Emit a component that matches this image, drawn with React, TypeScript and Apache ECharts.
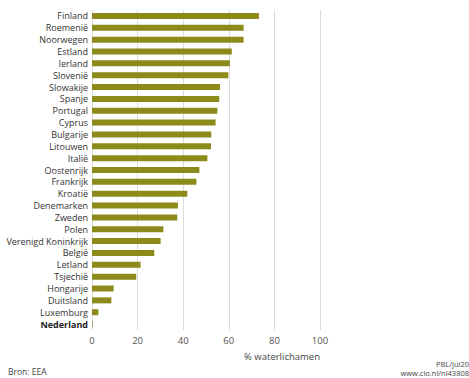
import React, { useEffect, useRef } from "react";
import * as echarts from "echarts";

const countries = [
  "Finland", "Roemenië", "Noorwegen", "Estland", "Ierland", "Slovenië", "Slowakije",
  "Spanje", "Portugal", "Cyprus", "Bulgarije", "Litouwen", "Italië", "Oostenrijk",
  "Frankrijk", "Kroatië", "Denemarken", "Zweden", "Polen", "Verenigd Koninkrijk",
  "België", "Letland", "Tsjechië", "Hongarije", "Duitsland", "Luxemburg", "Nederland",
];
const values = [
  73.2, 66.5, 66.5, 61.3, 60.5, 59.8, 56.1,
  55.8, 55.0, 54.2, 52.3, 52.2, 50.6, 47.1,
  45.8, 41.8, 37.7, 37.4, 31.3, 30.1,
  27.3, 21.3, 19.4, 9.5, 8.5, 2.8, 0.3,
];
const xTicks = [0, 20, 40, 60, 80, 100];
const axisName = "% waterlichamen";
const source = "Bron: EEA";
const credits = ["PBL/jul20", "www.clo.nl/nl43808"];

const FONT = "'Open Sans', 'Noto Sans', sans-serif";

export default function App() {
  const ref = useRef<HTMLDivElement>(null);
  useEffect(() => {
    if (!ref.current) return;
    const chart = echarts.init(ref.current, null, { renderer: "svg" });
    chart.setOption({
      animation: false,
      backgroundColor: "#ffffff",
      grid: { left: 92, right: 149, top: 10, height: 320, containLabel: false },
      xAxis: {
        type: "value",
        min: xTicks[0],
        max: xTicks[xTicks.length - 1],
        interval: 20,
        axisLine: { show: false },
        axisTick: { show: false },
        splitLine: { show: true, lineStyle: { color: "#dcdcdc", width: 1 } },
        axisLabel: { color: "#555", fontSize: 9.5, fontFamily: FONT, margin: 5 },
      },
      yAxis: {
        type: "category",
        data: countries,
        inverse: true,
        axisLine: { show: false },
        axisTick: { show: false },
        axisLabel: {
          interval: 0,
          color: "#333",
          fontSize: 9,
          fontFamily: FONT,
          margin: 4,
          formatter: (v: string) => (v === "Nederland" ? `{b|${v}}` : v),
          rich: { b: { fontWeight: "bold", color: "#222", fontSize: 9, fontFamily: FONT } },
        },
      },
      series: [
        {
          type: "bar",
          data: values,
          barWidth: 6,
          itemStyle: { color: "#8c8a1b" },
        },
      ],
      graphic: [
        {
          type: "text",
          right: 149,
          top: 351,
          style: { text: axisName, fill: "#444", fontSize: 9.5, fontFamily: FONT },
        },
        {
          type: "text",
          left: 8,
          top: 367,
          style: { text: source, fill: "#444", fontSize: 8.5, fontFamily: FONT },
        },
        {
          type: "text",
          right: 0,
          top: 360,
          style: { text: credits[0], fill: "#444", fontSize: 7.5, fontFamily: FONT },
        },
        {
          type: "text",
          right: 0,
          top: 369,
          style: { text: credits[1], fill: "#444", fontSize: 7.5, fontFamily: FONT },
        },
      ],
    });
    return () => chart.dispose();
  }, []);
  return <div ref={ref} style={{ width: 469, height: 378, position: "absolute", left: 0, top: 0 }} />;
}
